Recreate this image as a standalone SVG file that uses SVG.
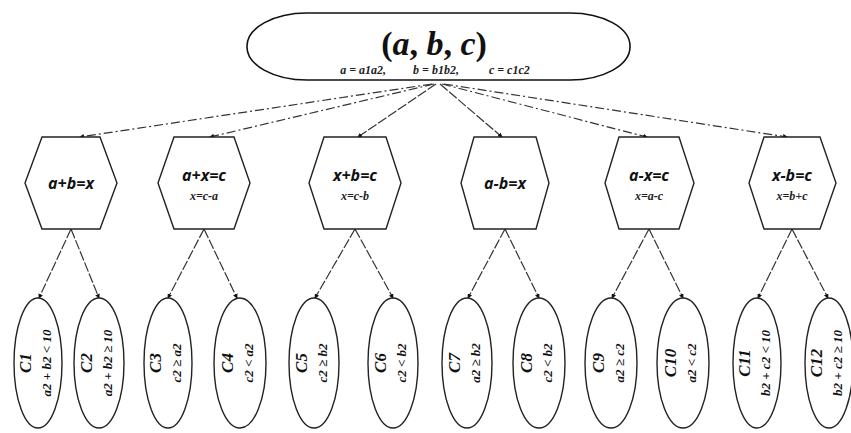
<svg xmlns="http://www.w3.org/2000/svg" width="851" height="433" viewBox="0 0 851 433">
<style>
.node{fill:#fff;stroke:#111;stroke-width:1.6}
.hex{fill:#fff;stroke:#222;stroke-width:1.4}
.ell{fill:#fff;stroke:#222;stroke-width:1.4}
.c1{fill:none;stroke:#333;stroke-width:1.2;stroke-dasharray:9 3 2 3}
.c2{fill:none;stroke:#333;stroke-width:1.2;stroke-dasharray:10 2}
.ht{font-family:"Open Sans","Liberation Sans",sans-serif;font-weight:bold;font-style:italic;font-size:16px;text-anchor:middle;fill:#111}
.hs{font-family:"Liberation Serif",serif;font-style:italic;font-weight:bold;font-size:12px;text-anchor:middle;fill:#222}
.el{font-family:"Liberation Serif",serif;font-weight:bold;font-style:italic;text-anchor:middle;fill:#111}
</style>
<defs>
<marker id="ar" viewBox="0 0 6 6" refX="5" refY="3" markerWidth="4" markerHeight="4" orient="auto">
<path d="M0,0 L6,3 L0,6 z" fill="#111"/>
</marker>
</defs>
<rect width="851" height="433" fill="#fff"/>
<g id="connectors">
<path class="c1" d="M432,84 L80,137" marker-end="url(#ar)"/>
<path class="c1" d="M434,84 L210,137" marker-end="url(#ar)"/>
<path class="c2" d="M436,84 L358,137" marker-end="url(#ar)"/>
<path class="c2" d="M440,84 L502,137" marker-end="url(#ar)"/>
<path class="c1" d="M442,84 L647,137" marker-end="url(#ar)"/>
<path class="c1" d="M444,84 L787,137" marker-end="url(#ar)"/>
<path class="c2" d="M71,229 L39,298" marker-end="url(#ar)"/>
<path class="c2" d="M71,229 L99,298" marker-end="url(#ar)"/>
<path class="c2" d="M204,229 L168,298" marker-end="url(#ar)"/>
<path class="c2" d="M204,229 L237,298" marker-end="url(#ar)"/>
<path class="c2" d="M355,229 L315,298" marker-end="url(#ar)"/>
<path class="c2" d="M355,229 L393,298" marker-end="url(#ar)"/>
<path class="c2" d="M505,229 L468,298" marker-end="url(#ar)"/>
<path class="c2" d="M505,229 L539,298" marker-end="url(#ar)"/>
<path class="c2" d="M649,229 L612,298" marker-end="url(#ar)"/>
<path class="c2" d="M649,229 L683,298" marker-end="url(#ar)"/>
<path class="c2" d="M792,229 L758,298" marker-end="url(#ar)"/>
<path class="c2" d="M792,229 L828,298" marker-end="url(#ar)"/>
</g>
<g id="root">
<rect class="node" x="247" y="13" width="383" height="67" rx="60" ry="33"/>
<text x="434" y="55" font-family="Liberation Serif,serif" font-weight="bold" font-size="34" text-anchor="middle" fill="#111">(<tspan font-style="italic">a</tspan>, <tspan font-style="italic">b</tspan>, <tspan font-style="italic">c</tspan>)</text>
<text x="435" y="74" font-family="Liberation Serif,serif" font-weight="bold" font-style="italic" font-size="12" text-anchor="middle" fill="#222" xml:space="preserve">a = a1a2,         b = b1b2,          c = c1c2</text>
</g>
<g id="h1"><polygon class="hex" points="42,137 100,137 117,183 100,229 42,229 25,183"/><text class="ht" x="71" y="189">a+b=x</text></g>
<g id="h2"><polygon class="hex" points="174,137 234,137 250,183 234,229 174,229 158,183"/><text class="ht" x="204" y="181">a+x=c</text><text class="hs" x="204" y="200">x=c-a</text></g>
<g id="h3"><polygon class="hex" points="324,137 386,137 401,183 386,229 324,229 309,183"/><text class="ht" x="355" y="181">x+b=c</text><text class="hs" x="355" y="200">x=c-b</text></g>
<g id="h4"><polygon class="hex" points="474,137 536,137 549,183 536,229 474,229 461,183"/><text class="ht" x="505" y="189">a-b=x</text></g>
<g id="h5"><polygon class="hex" points="619,137 679,137 694,183 679,229 619,229 605,183"/><text class="ht" x="649" y="181">a-x=c</text><text class="hs" x="649" y="200">x=a-c</text></g>
<g id="h6"><polygon class="hex" points="764,137 820,137 836,183 820,229 764,229 749,183"/><text class="ht" x="792" y="181">x-b=c</text><text class="hs" x="792" y="200">x=b+c</text></g>
<g id="e1"><ellipse class="ell" cx="38" cy="363" rx="24" ry="65"/><g transform="translate(38,363) rotate(-90)"><text class="el" font-size="17" x="0" y="-7">C1</text><text class="el" font-size="13" x="0" y="13">a2 + b2 &lt; 10</text></g></g>
<g id="e2"><ellipse class="ell" cx="99" cy="363" rx="25" ry="65"/><g transform="translate(99,363) rotate(-90)"><text class="el" font-size="17" x="0" y="-7">C2</text><text class="el" font-size="13" x="0" y="13">a2 + b2 ≥ 10</text></g></g>
<g id="e3"><ellipse class="ell" cx="168" cy="363" rx="24" ry="65"/><g transform="translate(168,363) rotate(-90)"><text class="el" font-size="17" x="0" y="-7">C3</text><text class="el" font-size="13" x="0" y="13">c2 ≥ a2</text></g></g>
<g id="e4"><ellipse class="ell" cx="240" cy="363" rx="26" ry="65"/><g transform="translate(240,363) rotate(-90)"><text class="el" font-size="17" x="0" y="-7">C4</text><text class="el" font-size="13" x="0" y="13">c2 &lt; a2</text></g></g>
<g id="e5"><ellipse class="ell" cx="314" cy="363" rx="25" ry="65"/><g transform="translate(314,363) rotate(-90)"><text class="el" font-size="17" x="0" y="-7">C5</text><text class="el" font-size="13" x="0" y="13">c2 ≥ b2</text></g></g>
<g id="e6"><ellipse class="ell" cx="393" cy="363" rx="25" ry="65"/><g transform="translate(393,363) rotate(-90)"><text class="el" font-size="17" x="0" y="-7">C6</text><text class="el" font-size="13" x="0" y="13">c2 &lt; b2</text></g></g>
<g id="e7"><ellipse class="ell" cx="467" cy="363" rx="25" ry="65"/><g transform="translate(467,363) rotate(-90)"><text class="el" font-size="17" x="0" y="-7">C7</text><text class="el" font-size="13" x="0" y="13">a2 ≥ b2</text></g></g>
<g id="e8"><ellipse class="ell" cx="539" cy="363" rx="26" ry="65"/><g transform="translate(539,363) rotate(-90)"><text class="el" font-size="17" x="0" y="-7">C8</text><text class="el" font-size="13" x="0" y="13">c2 &lt; b2</text></g></g>
<g id="e9"><ellipse class="ell" cx="611" cy="363" rx="26" ry="65"/><g transform="translate(611,363) rotate(-90)"><text class="el" font-size="17" x="0" y="-7">C9</text><text class="el" font-size="13" x="0" y="13">a2 ≥ c2</text></g></g>
<g id="e10"><ellipse class="ell" cx="683" cy="363" rx="26" ry="65"/><g transform="translate(683,363) rotate(-90)"><text class="el" font-size="17" x="0" y="-7">C10</text><text class="el" font-size="13" x="0" y="13">a2 &lt; c2</text></g></g>
<g id="e11"><ellipse class="ell" cx="757" cy="363" rx="24" ry="65"/><g transform="translate(757,363) rotate(-90)"><text class="el" font-size="17" x="0" y="-7">C11</text><text class="el" font-size="13" x="0" y="13">b2 + c2 &lt; 10</text></g></g>
<g id="e12"><ellipse class="ell" cx="829" cy="363" rx="24" ry="65"/><g transform="translate(829,363) rotate(-90)"><text class="el" font-size="17" x="0" y="-7">C12</text><text class="el" font-size="13" x="0" y="13">b2 + c2 ≥ 10</text></g></g>
</svg>
